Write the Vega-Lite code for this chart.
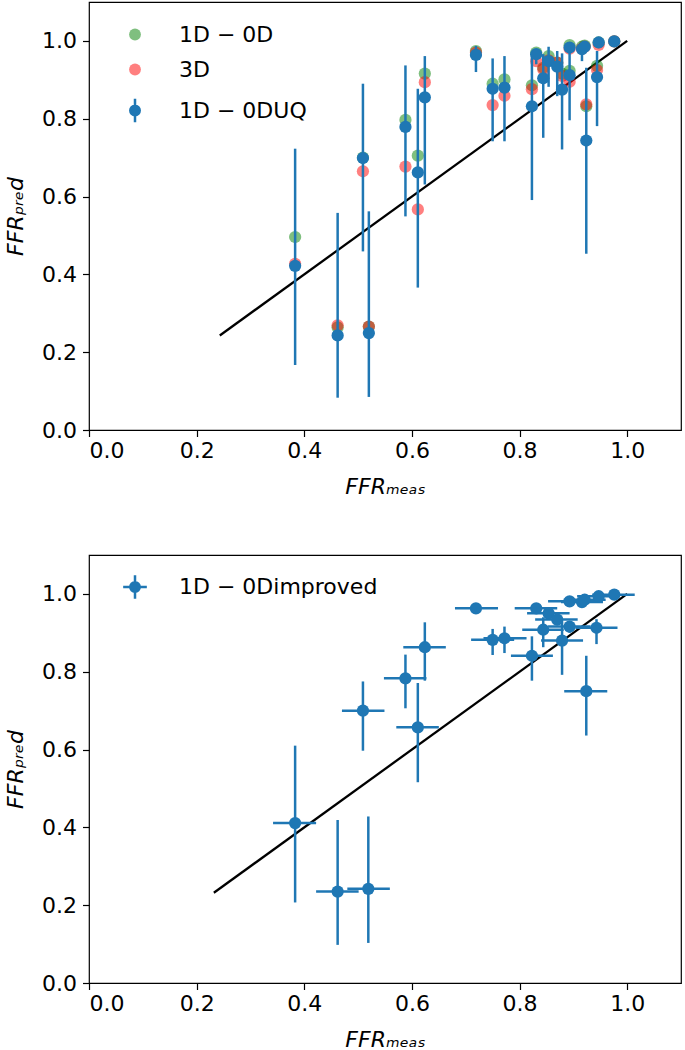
{
  "$schema": "https://vega.github.io/schema/vega-lite/v6.json",
  "padding": {"left": 3, "top": 1, "right": 0, "bottom": 0},
  "config": {
    "font": "DejaVu Sans",
    "view": {"stroke": "#000000", "strokeWidth": 1.2},
    "axis": {
      "domain": false, "grid": false, "tickColor": "#000000", "tickSize": 6.5, "tickWidth": 1.2, "tickCount": 6,
      "labelFontSize": 22, "labelColor": "#000000", "labelFont": "DejaVu Sans",
      "titleFontSize": 22, "titleFontStyle": "italic", "titleFontWeight": "normal", "titleColor": "#000000", "titleFont": "DejaVu Sans",
      "format": ".1f"
    },
    "axisX": {"titlePadding": 15, "labelPadding": 4},
    "axisY": {"titlePadding": 14, "labelPadding": 6},
    "legend": {
      "orient": "none", "legendX": 35, "padding": 0, "labelFontSize": 22, "labelFont": "DejaVu Sans", "labelColor": "#000000",
      "symbolSize": 140, "labelOffset": 33, "rowPadding": 13, "labelLimit": 0, "title": null
    }
  },
  "datasets": {
    "top": [
      {"ffr": 0.383, "uq": 0.422, "d10": 0.496, "d3": 0.427, "lo": 0.167, "hi": 0.723},
      {"ffr": 0.462, "uq": 0.243, "d10": 0.264, "d3": 0.269, "lo": 0.083, "hi": 0.558},
      {"ffr": 0.520, "uq": 0.249, "d10": 0.266, "d3": 0.266, "lo": 0.085, "hi": 0.562},
      {"ffr": 0.509, "uq": 0.699, "d10": 0.700, "d3": 0.665, "lo": 0.459, "hi": 0.890},
      {"ffr": 0.588, "uq": 0.779, "d10": 0.797, "d3": 0.677, "lo": 0.549, "hi": 0.937},
      {"ffr": 0.611, "uq": 0.662, "d10": 0.705, "d3": 0.567, "lo": 0.366, "hi": 0.877},
      {"ffr": 0.624, "uq": 0.855, "d10": 0.916, "d3": 0.894, "lo": 0.631, "hi": 0.961},
      {"ffr": 0.719, "uq": 0.964, "d10": 0.974, "d3": 0.970, "lo": 0.920, "hi": 0.987},
      {"ffr": 0.750, "uq": 0.877, "d10": 0.890, "d3": 0.835, "lo": 0.742, "hi": 0.955},
      {"ffr": 0.772, "uq": 0.880, "d10": 0.901, "d3": 0.859, "lo": 0.742, "hi": 0.961},
      {"ffr": 0.823, "uq": 0.832, "d10": 0.886, "d3": 0.876, "lo": 0.591, "hi": 0.970},
      {"ffr": 0.831, "uq": 0.966, "d10": 0.970, "d3": 0.948, "lo": 0.940, "hi": 0.975},
      {"ffr": 0.844, "uq": 0.904, "d10": 0.931, "d3": 0.927, "lo": 0.751, "hi": 0.966},
      {"ffr": 0.854, "uq": 0.948, "d10": 0.961, "d3": 0.950, "lo": 0.882, "hi": 0.985},
      {"ffr": 0.870, "uq": 0.934, "d10": 0.944, "d3": 0.944, "lo": 0.858, "hi": 0.974},
      {"ffr": 0.879, "uq": 0.875, "d10": 0.916, "d3": 0.910, "lo": 0.721, "hi": 0.968},
      {"ffr": 0.893, "uq": 0.983, "d10": 0.989, "d3": 0.980, "lo": 0.970, "hi": 0.990},
      {"ffr": 0.893, "uq": 0.912, "d10": 0.923, "d3": 0.895, "lo": 0.796, "hi": 0.985},
      {"ffr": 0.916, "uq": 0.979, "d10": 0.985, "d3": 0.980, "lo": 0.948, "hi": 0.990},
      {"ffr": 0.921, "uq": 0.985, "d10": 0.988, "d3": 0.985, "lo": 0.975, "hi": 0.995},
      {"ffr": 0.924, "uq": 0.744, "d10": 0.832, "d3": 0.837, "lo": 0.453, "hi": 0.931},
      {"ffr": 0.944, "uq": 0.907, "d10": 0.936, "d3": 0.925, "lo": 0.781, "hi": 0.974},
      {"ffr": 0.947, "uq": 0.996, "d10": 0.996, "d3": 0.990, "lo": 0.990, "hi": 1.000},
      {"ffr": 0.976, "uq": 0.999, "d10": 0.999, "d3": 0.999, "lo": 0.995, "hi": 1.003}
    ],
    "bottom": [
      {"ffr": 0.383, "pred": 0.411, "ylo": 0.207, "yhi": 0.610, "xlo": 0.342, "xhi": 0.422},
      {"ffr": 0.462, "pred": 0.235, "ylo": 0.098, "yhi": 0.419, "xlo": 0.422, "xhi": 0.501},
      {"ffr": 0.519, "pred": 0.242, "ylo": 0.103, "yhi": 0.428, "xlo": 0.480, "xhi": 0.559},
      {"ffr": 0.509, "pred": 0.700, "ylo": 0.597, "yhi": 0.775, "xlo": 0.470, "xhi": 0.549},
      {"ffr": 0.588, "pred": 0.783, "ylo": 0.706, "yhi": 0.844, "xlo": 0.548, "xhi": 0.627},
      {"ffr": 0.611, "pred": 0.657, "ylo": 0.516, "yhi": 0.771, "xlo": 0.571, "xhi": 0.650},
      {"ffr": 0.624, "pred": 0.863, "ylo": 0.777, "yhi": 0.927, "xlo": 0.584, "xhi": 0.663},
      {"ffr": 0.719, "pred": 0.963, "ylo": 0.955, "yhi": 0.970, "xlo": 0.680, "xhi": 0.760},
      {"ffr": 0.750, "pred": 0.882, "ylo": 0.843, "yhi": 0.910, "xlo": 0.710, "xhi": 0.790},
      {"ffr": 0.772, "pred": 0.886, "ylo": 0.848, "yhi": 0.916, "xlo": 0.733, "xhi": 0.813},
      {"ffr": 0.823, "pred": 0.841, "ylo": 0.777, "yhi": 0.891, "xlo": 0.784, "xhi": 0.862},
      {"ffr": 0.831, "pred": 0.963, "ylo": 0.955, "yhi": 0.970, "xlo": 0.791, "xhi": 0.870},
      {"ffr": 0.844, "pred": 0.908, "ylo": 0.863, "yhi": 0.940, "xlo": 0.805, "xhi": 0.882},
      {"ffr": 0.854, "pred": 0.950, "ylo": 0.935, "yhi": 0.965, "xlo": 0.814, "xhi": 0.893},
      {"ffr": 0.870, "pred": 0.934, "ylo": 0.920, "yhi": 0.948, "xlo": 0.829, "xhi": 0.908},
      {"ffr": 0.879, "pred": 0.880, "ylo": 0.792, "yhi": 0.930, "xlo": 0.840, "xhi": 0.918},
      {"ffr": 0.893, "pred": 0.981, "ylo": 0.975, "yhi": 0.988, "xlo": 0.853, "xhi": 0.932},
      {"ffr": 0.893, "pred": 0.916, "ylo": 0.900, "yhi": 0.930, "xlo": 0.853, "xhi": 0.932},
      {"ffr": 0.916, "pred": 0.979, "ylo": 0.972, "yhi": 0.986, "xlo": 0.877, "xhi": 0.955},
      {"ffr": 0.921, "pred": 0.985, "ylo": 0.978, "yhi": 0.990, "xlo": 0.882, "xhi": 0.960},
      {"ffr": 0.924, "pred": 0.750, "ylo": 0.636, "yhi": 0.841, "xlo": 0.883, "xhi": 0.963},
      {"ffr": 0.943, "pred": 0.913, "ylo": 0.871, "yhi": 0.935, "xlo": 0.904, "xhi": 0.982},
      {"ffr": 0.947, "pred": 0.994, "ylo": 0.988, "yhi": 1.000, "xlo": 0.907, "xhi": 0.986},
      {"ffr": 0.976, "pred": 0.998, "ylo": 0.993, "yhi": 1.003, "xlo": 0.935, "xhi": 1.014}
    ],
    "idTop": [{"v": 0.243}, {"v": 1.0}],
    "idBottom": [{"v": 0.232}, {"v": 1.0}]
  },
  "spacing": 55,
  "resolve": {
    "scale": {"color": "independent"},
    "legend": {"color": "independent"}
  },
  "vconcat": [
    {
      "width": 592, "height": 428,
      "layer": [
        {"mark": {"type": "rule", "color": "#888888", "strokeWidth": 2}, "encoding": {"x": {"datum": 0.8, "type": "quantitative", "scale": {"domain": [0, 1.1], "nice": false}, "title": "FFRₘₑₐₛ"}}},
        {"mark": {"type": "rule", "color": "#888888", "strokeWidth": 2}, "encoding": {"y": {"datum": 0.8, "type": "quantitative", "scale": {"domain": [0, 1.1], "nice": false}, "title": "FFRₚᵣₑd"}}},
        {"data": {"name": "idTop"}, "mark": {"type": "line", "color": "#000000", "strokeWidth": 2.3}, "encoding": {"x": {"field": "v", "type": "quantitative", "title": "FFRₘₑₐₛ"}, "y": {"field": "v", "type": "quantitative", "title": "FFRₚᵣₑd"}}},
        {"data": {"name": "top"}, "mark": {"type": "point", "filled": true, "size": 150, "opacity": 1},
          "encoding": {
            "x": {"field": "ffr", "type": "quantitative", "title": "FFRₘₑₐₛ"}, "y": {"field": "d10", "type": "quantitative", "title": "FFRₚᵣₑd"},
            "color": {"datum": "1D − 0D", "scale": {"domain": ["1D − 0D", "3D", "1D − 0DUQ"], "range": ["rgba(0,128,0,0.5)", "rgba(255,0,0,0.5)", "#1f77b4"]},
              "legend": {"legendY": 21.5, "encoding": {"symbols": {
                "stroke": {"value": "#1f77b4"},
                "strokeWidth": {"value": {"expr": "datum.value === '1D − 0DUQ' ? 2.5 : 0"}},
                "shape": {"value": {"expr": "datum.value === '1D − 0DUQ' ? 'M-0.8,0A0.8,0.8,0,1,1,0.8,0A0.8,0.8,0,1,1,-0.8,0ZM0,-2L0,2' : 'circle'"}}
              }}}}
          }},
        {"data": {"name": "top"}, "mark": {"type": "point", "filled": true, "size": 150, "opacity": 1},
          "encoding": {
            "x": {"field": "ffr", "type": "quantitative", "title": "FFRₘₑₐₛ"}, "y": {"field": "d3", "type": "quantitative", "title": "FFRₚᵣₑd"},
            "color": {"datum": "3D"}
          }},
        {"data": {"name": "top"}, "mark": {"type": "rule", "color": "#1f77b4", "strokeWidth": 2.5},
          "encoding": {"x": {"field": "ffr", "type": "quantitative", "title": "FFRₘₑₐₛ"}, "y": {"field": "lo", "type": "quantitative", "title": "FFRₚᵣₑd"}, "y2": {"field": "hi"}}},
        {"data": {"name": "top"}, "mark": {"type": "point", "filled": true, "size": 150, "opacity": 1},
          "encoding": {
            "x": {"field": "ffr", "type": "quantitative", "title": "FFRₘₑₐₛ"}, "y": {"field": "uq", "type": "quantitative", "title": "FFRₚᵣₑd"},
            "color": {"datum": "1D − 0DUQ"}
          }}
      ]
    },
    {
      "width": 592, "height": 428,
      "layer": [
        {"mark": {"type": "rule", "color": "#888888", "strokeWidth": 2}, "encoding": {"x": {"datum": 0.8, "type": "quantitative", "scale": {"domain": [0, 1.1], "nice": false}, "title": "FFRₘₑₐₛ"}}},
        {"mark": {"type": "rule", "color": "#888888", "strokeWidth": 2}, "encoding": {"y": {"datum": 0.8, "type": "quantitative", "scale": {"domain": [0, 1.1], "nice": false}, "title": "FFRₚᵣₑd"}}},
        {"data": {"name": "idBottom"}, "mark": {"type": "line", "color": "#000000", "strokeWidth": 2.3}, "encoding": {"x": {"field": "v", "type": "quantitative", "title": "FFRₘₑₐₛ"}, "y": {"field": "v", "type": "quantitative", "title": "FFRₚᵣₑd"}}},
        {"data": {"name": "bottom"}, "mark": {"type": "rule", "color": "#1f77b4", "strokeWidth": 2.5},
          "encoding": {"x": {"field": "ffr", "type": "quantitative", "title": "FFRₘₑₐₛ"}, "y": {"field": "ylo", "type": "quantitative", "title": "FFRₚᵣₑd"}, "y2": {"field": "yhi"}}},
        {"data": {"name": "bottom"}, "mark": {"type": "rule", "color": "#1f77b4", "strokeWidth": 2.5},
          "encoding": {"x": {"field": "xlo", "type": "quantitative", "title": "FFRₘₑₐₛ"}, "x2": {"field": "xhi"}, "y": {"field": "pred", "type": "quantitative", "title": "FFRₚᵣₑd"}}},
        {"data": {"name": "bottom"}, "mark": {"type": "point", "filled": true, "size": 150, "opacity": 1},
          "encoding": {
            "x": {"field": "ffr", "type": "quantitative", "title": "FFRₘₑₐₛ"}, "y": {"field": "pred", "type": "quantitative", "title": "FFRₚᵣₑd"},
            "color": {"datum": "1D − 0Dimproved", "scale": {"domain": ["1D − 0Dimproved"], "range": ["#1f77b4"]},
              "legend": {"legendY": 21, "encoding": {"symbols": {
                "stroke": {"value": "#1f77b4"},
                "strokeWidth": {"value": 2.5},
                "shape": {"value": "M-0.8,0A0.8,0.8,0,1,1,0.8,0A0.8,0.8,0,1,1,-0.8,0ZM0,-2L0,2M-2,0L2,0"}
              }}}}
          }}
      ]
    }
  ]
}
